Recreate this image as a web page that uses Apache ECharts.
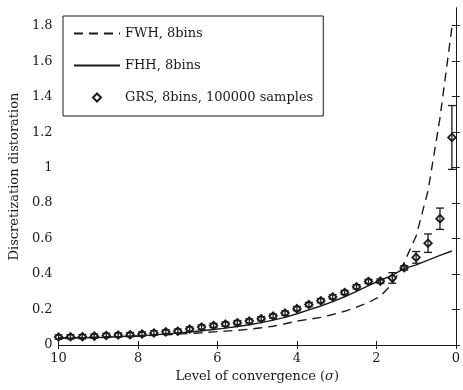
<!DOCTYPE html>
<html>
<head>
<meta charset="utf-8">
<script src="https://cdn.jsdelivr.net/npm/echarts@6/dist/echarts.min.js"></script>
<style>
  html, body { margin: 0; padding: 0; background: #fff; }
  #chart { width: 463px; height: 390px; }
</style>
</head>
<body>
<div id="chart"></div>
<script>
// Level of convergence (sigma) at which each method was evaluated
const sigma = [10.0, 9.7, 9.4, 9.1, 8.8, 8.5, 8.2, 7.9, 7.6, 7.3, 7.0, 6.7,
               6.4, 6.1, 5.8, 5.5, 5.2, 4.9, 4.6, 4.3, 4.0, 3.7, 3.4, 3.1,
               2.8, 2.5, 2.2, 1.9, 1.6, 1.3, 1.0, 0.7, 0.4, 0.1];

// FWH, 8 bins
const fwh = [0.040, 0.041, 0.042, 0.043, 0.045, 0.047, 0.049, 0.051, 0.054, 0.057, 0.061, 0.065,
             0.069, 0.074, 0.078, 0.083, 0.089, 0.097, 0.106, 0.120, 0.135, 0.145, 0.156, 0.172,
             0.190, 0.213, 0.240, 0.275, 0.345, 0.465, 0.615, 0.870, 1.280, 1.790];

// FHH, 8 bins
const fhh = [0.038, 0.039, 0.040, 0.042, 0.044, 0.047, 0.050, 0.053, 0.057, 0.062, 0.067, 0.073,
             0.080, 0.087, 0.095, 0.104, 0.114, 0.126, 0.140, 0.156, 0.176, 0.198, 0.220, 0.245,
             0.272, 0.302, 0.335, 0.365, 0.393, 0.432, 0.452, 0.478, 0.505, 0.530];

// GRS, 8 bins, 100000 samples: mean and half-width of the error bar
const grs = [0.045, 0.046, 0.047, 0.050, 0.054, 0.056, 0.058, 0.062, 0.068, 0.074, 0.078, 0.090,
             0.101, 0.110, 0.118, 0.126, 0.135, 0.148, 0.163, 0.180, 0.205, 0.228, 0.250, 0.271,
             0.296, 0.328, 0.358, 0.360, 0.378, 0.435, 0.494, 0.574, 0.712, 1.170];
const grsErr = [0.012, 0.012, 0.012, 0.012, 0.012, 0.012, 0.012, 0.012, 0.012, 0.012, 0.012, 0.012,
                0.012, 0.012, 0.012, 0.012, 0.012, 0.012, 0.012, 0.012, 0.012, 0.012, 0.012, 0.012,
                0.012, 0.012, 0.012, 0.012, 0.030, 0.012, 0.033, 0.052, 0.060, 0.180];

// Axis tick labels
const xTicks = [10, 8, 6, 4, 2, 0];
const yTicks = [0, 0.2, 0.4, 0.6, 0.8, 1, 1.2, 1.4, 1.6, 1.8];

const FONT = 'DejaVu Serif';
const INK = '#1a1a1a';

const pairs = (ys) => sigma.map((s, i) => [s, ys[i]]);
const errData = sigma.map((s, i) => [s, grs[i] - grsErr[i], grs[i] + grsErr[i]]);

const axisCommon = {
  axisLine: { show: true, lineStyle: { color: INK, width: 1 } },
  splitLine: { show: false }
};

const chart = echarts.init(document.getElementById('chart'), null, { renderer: 'canvas' });

chart.setOption({
  animation: false,
  backgroundColor: '#fff',
  grid: { left: 54, right: -1, top: 8, bottom: 45 },
  xAxis: [
    Object.assign({
      type: 'value', position: 'bottom', inverse: true, min: 0, max: 10,
      name: 'Level of convergence ({i|σ})', nameLocation: 'middle', nameGap: 14,
      nameTextStyle: { fontFamily: FONT, fontSize: 13, color: INK,
                       rich: { i: { fontFamily: FONT, fontSize: 13, fontStyle: 'italic', color: INK } } },
      axisTick: { inside: true, length: 4, customValues: xTicks, lineStyle: { color: INK } },
      axisLabel: { customValues: xTicks, margin: 7, fontFamily: FONT, fontSize: 13, color: INK }
    }, axisCommon),
    Object.assign({
      type: 'value', position: 'top', inverse: true, min: 0, max: 10,
      axisTick: { inside: true, length: 4, customValues: xTicks, lineStyle: { color: INK } },
      axisLabel: { show: false }
    }, axisCommon)
  ],
  yAxis: [
    Object.assign({
      type: 'value', position: 'left', min: 0, max: 1.9,
      name: 'Discretization distoration', nameLocation: 'middle', nameGap: 30,
      nameTextStyle: { fontFamily: FONT, fontSize: 13, color: INK },
      axisTick: { inside: true, length: 4, customValues: yTicks, lineStyle: { color: INK } },
      axisLabel: { customValues: yTicks, margin: 6, fontFamily: FONT, fontSize: 13, color: INK }
    }, axisCommon),
    Object.assign({
      type: 'value', position: 'right', min: 0, max: 1.9,
      axisTick: { inside: true, length: 4, customValues: yTicks, lineStyle: { color: INK } },
      axisLabel: { show: false }
    }, axisCommon)
  ],
  legend: {
    orient: 'vertical', left: 63, top: 16,
    itemWidth: 46, itemHeight: 10, itemGap: 19,
    padding: [11, 10, 12, 10],
    borderColor: INK, borderWidth: 1, backgroundColor: '#fff',
    textStyle: { fontFamily: FONT, fontSize: 13, color: INK },
    data: [
      { name: 'FWH, 8bins', itemStyle: { opacity: 0 } },
      { name: 'FHH, 8bins', itemStyle: { opacity: 0 } },
      { name: 'GRS, 8bins, 100000 samples' }
    ]
  },
  series: [
    {
      name: 'FWH, 8bins', type: 'line', data: pairs(fwh),
      symbol: 'none', z: 3,
      lineStyle: { color: INK, width: 1.4, type: [9, 6] },
      itemStyle: { color: INK }
    },
    {
      name: 'FHH, 8bins', type: 'line', data: pairs(fhh),
      symbol: 'none', z: 3,
      lineStyle: { color: INK, width: 1.4, type: 'solid' },
      itemStyle: { color: INK }
    },
    {
      name: 'GRS error', type: 'custom', data: errData, z: 4,
      renderItem: function (params, api) {
        const x = api.value(0);
        const lo = api.coord([x, api.value(1)]);
        const hi = api.coord([x, api.value(2)]);
        const w = 4;
        const st = { stroke: INK, lineWidth: 1.3 };
        return {
          type: 'group',
          children: [
            { type: 'line', shape: { x1: lo[0], y1: lo[1], x2: hi[0], y2: hi[1] }, style: st },
            { type: 'line', shape: { x1: lo[0] - w, y1: lo[1], x2: lo[0] + w, y2: lo[1] }, style: st },
            { type: 'line', shape: { x1: hi[0] - w, y1: hi[1], x2: hi[0] + w, y2: hi[1] }, style: st }
          ]
        };
      }
    },
    {
      name: 'GRS, 8bins, 100000 samples', type: 'line', data: pairs(grs),
      symbol: 'diamond', symbolSize: 7.5, showSymbol: true, showAllSymbol: true, z: 5,
      lineStyle: { opacity: 0, width: 0 },
      itemStyle: { color: 'rgba(255,255,255,0)', borderColor: INK, borderWidth: 1.8 }
    }
  ]
});
</script>
</body>
</html>
